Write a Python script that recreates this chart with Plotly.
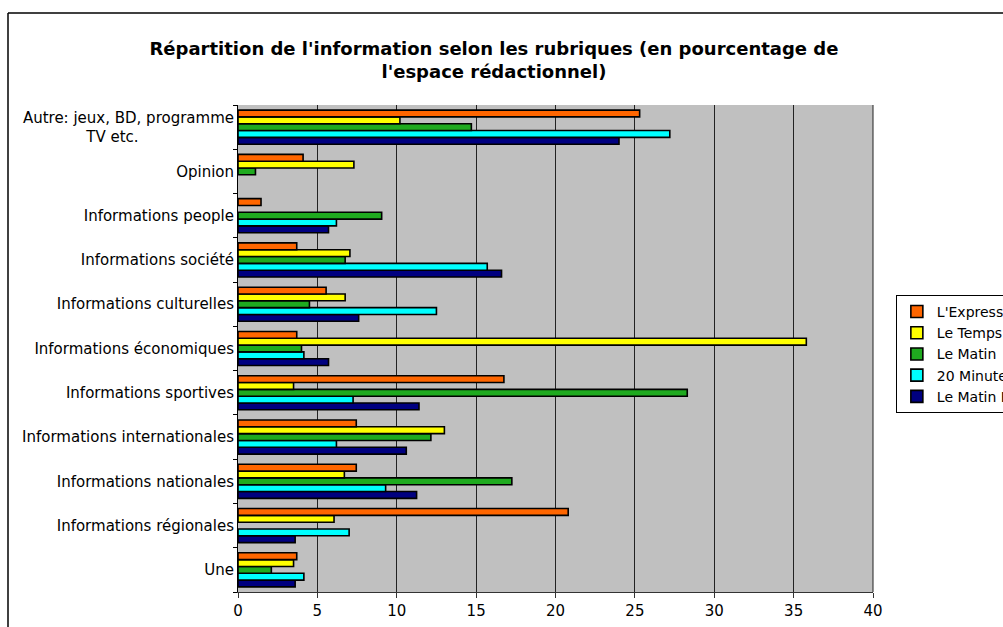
import plotly.graph_objects as go

categories = [
    "Une",
    "Informations régionales",
    "Informations nationales",
    "Informations internationales",
    "Informations sportives",
    "Informations économiques",
    "Informations culturelles",
    "Informations société",
    "Informations people",
    "Opinion",
    "Autre: jeux, BD, programme<br>TV etc.\u00a0\u00a0\u00a0\u00a0\u00a0\u00a0\u00a0\u00a0\u00a0\u00a0\u00a0\u00a0\u00a0\u00a0\u00a0\u00a0\u00a0\u00a0\u00a0\u00a0",
]

# None = no bar shown in the reference
lexpress = [3.7, 20.8, 7.45, 7.45, 16.75, 3.7, 5.55, 3.7, 1.45, 4.1, 25.3]
le_temps = [3.5, 6.05, 6.7, 13.0, 3.5, 35.8, 6.75, 7.05, None, 7.3, 10.2]
le_matin = [2.1, None, 17.25, 12.15, 28.3, 4.0, 4.5, 6.75, 9.05, 1.1, 14.7]
vingt_minutes = [4.15, 7.0, 9.3, 6.2, 7.25, 4.15, 12.5, 15.7, 6.2, None, 27.2]
matin_bleu = [3.6, 3.6, 11.25, 10.6, 11.4, 5.7, 7.6, 16.6, 5.7, None, 24.0]

series_names = ["L'Express", "Le Temps", "Le Matin", "20 Minutes", "Le Matin Bleu"]
series_values = [lexpress, le_temps, le_matin, vingt_minutes, matin_bleu]
colors = ["#FF6600", "#FFFF00", "#1FAA1F", "#00FFFF", "#000080"]

fig = go.Figure()
# add in reverse so that L'Express sits at top of each group
for name, vals, col in reversed(list(zip(series_names, series_values, colors))):
    fig.add_trace(go.Bar(
        y=categories, x=vals, name=name, orientation="h",
        marker=dict(color=col, line=dict(color="black", width=1.6)),
    ))

FONT = "DejaVu Sans"
fig.update_layout(
    width=1003, height=627,
    margin=dict(l=238, r=130, t=105, b=35, autoexpand=False),
    paper_bgcolor="white", plot_bgcolor="#C0C0C0",
    barmode="group", bargap=0.23, bargroupgap=0,
    title=dict(
        text="Répartition de l'information selon les rubriques (en pourcentage de<br>l'espace rédactionnel)",
        x=0.4925, xanchor="center", y=0.913, yanchor="middle",
        font=dict(family=FONT, size=18, color="black", weight="bold"),
    ),
    font=dict(family=FONT, size=15, color="black"),
    showlegend=True,
    legend=dict(
        x=1.036, xanchor="left", y=0.61, yanchor="top",
        traceorder="reversed", bgcolor="white",
        bordercolor="black", borderwidth=1,
        font=dict(family=FONT, size=14, color="black"),
        itemwidth=30,
    ),
    xaxis=dict(
        range=[0, 40], dtick=5, tick0=0,
        showgrid=True, gridcolor="#222222", gridwidth=1,
        zeroline=False, showline=True, linecolor="#333333", linewidth=1,
        ticks="outside", ticklen=5, tickcolor="#333333",
        tickfont=dict(family=FONT, size=15, color="black"),
    ),
    yaxis=dict(
        type="category", categoryorder="array", categoryarray=categories,
        showgrid=False, zeroline=False, showline=True, linecolor="black", linewidth=1,
        ticks="outside", ticklen=4, tickcolor="black", tickson="boundaries",
        tickfont=dict(family=FONT, size=15, color="black"),
    ),
    shapes=[
        dict(type="line", xref="paper", yref="paper", x0=1, x1=1, y0=0, y1=1,
             line=dict(color="#222222", width=1)),
        dict(type="line", xref="paper", yref="paper",
             x0=-0.3622, x1=-0.3622, y0=-0.2, y1=1.1889,
             line=dict(color="black", width=1.5)),
        dict(type="line", xref="paper", yref="paper",
             x0=-0.3622, x1=1.3, y0=1.1889, y1=1.1889,
             line=dict(color="black", width=1.5)),
    ],
)

fig.write_html("out.html")
